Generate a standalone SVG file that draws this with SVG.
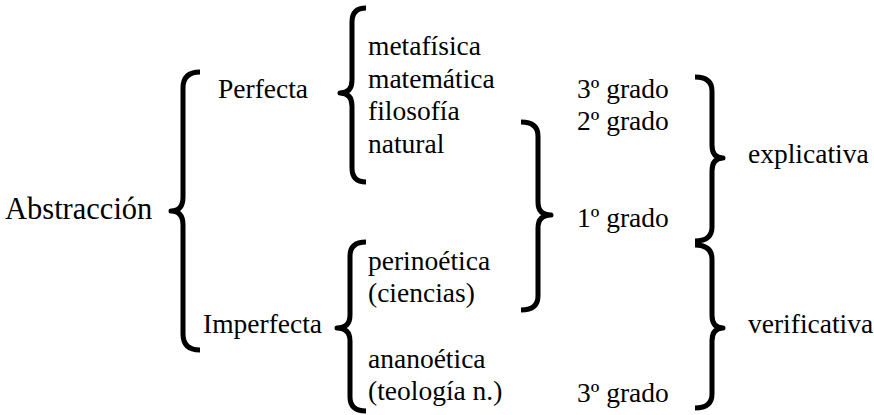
<svg xmlns="http://www.w3.org/2000/svg" width="874" height="415" viewBox="0 0 874 415" font-family="'Liberation Serif', 'DejaVu Serif', serif">
<style>
  text { font-family: "Liberation Serif", "DejaVu Serif", serif; font-size: 27.5px; fill: #000; }
  .big { font-size: 30.5px; }
  .brace { fill: none; stroke: #000; stroke-width: 5; stroke-linecap: butt; stroke-linejoin: round; }
</style>
<rect width="874" height="415" fill="#fff"/>
<g id="connectors">
  <path class="brace" d="M200,72 Q183,72 183,88 L183,197 Q183,211 171,211 Q183,211 183,225 L183,334 Q183,350 200,350"/>
  <path class="brace" d="M366,8 Q352,8 352,22 L352,80 Q352,93 340,93 Q352,93 352,106 L352,168 Q352,182 366,182"/>
  <path class="brace" d="M366,242 Q350,242 350,256 L350,315 Q350,328 337,328 Q350,328 350,341 L350,397 Q350,411 366,411"/>
  <path class="brace" d="M521,122 Q538,122 538,136 L538,202 Q538,215 551,215 Q538,215 538,228 L538,296 Q538,310 521,310"/>
  <path class="brace" d="M695,77 Q712,77 712,91 L712,145 Q712,158 723,158 Q712,158 712,171 L712,227 Q712,241 695,241"/>
  <path class="brace" d="M695,245 Q712,245 712,259 L712,315 Q712,328 723,328 Q712,328 712,341 L712,394 Q712,408 695,408"/>
</g>
<g id="abstraccion"><text class="big" x="5" y="219">Abstracción</text></g>
<g id="perfecta"><text x="218" y="98">Perfecta</text></g>
<g id="imperfecta"><text x="203" y="333">Imperfecta</text></g>
<g id="perfecta-ramas">
  <text x="368" y="55">metafísica</text>
  <text x="368" y="88">matemática</text>
  <text x="368" y="120">filosofía</text>
  <text x="368" y="153">natural</text>
</g>
<g id="imperfecta-ramas">
  <text x="368" y="270">perinoética</text>
  <text x="368" y="302">(ciencias)</text>
  <text x="368" y="368">ananoética</text>
  <text x="368" y="400">(teología n.)</text>
</g>
<g id="grados">
  <text x="577" y="98">3º grado</text>
  <text x="577" y="130">2º grado</text>
  <text x="577" y="227">1º grado</text>
  <text x="577" y="402">3º grado</text>
</g>
<g id="explicativa"><text x="748" y="163">explicativa</text></g>
<g id="verificativa"><text x="748" y="333">verificativa</text></g>
</svg>
